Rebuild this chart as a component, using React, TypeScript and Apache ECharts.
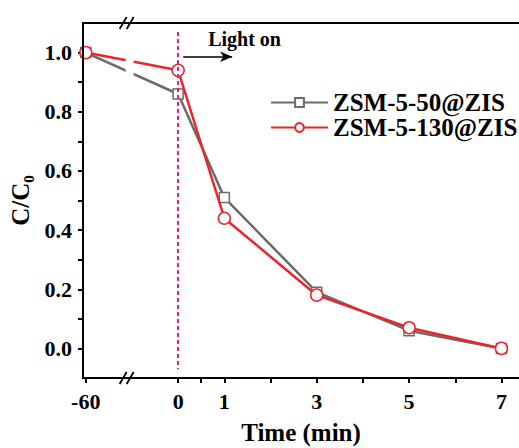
import React, { useEffect, useRef } from "react";
import * as echarts from "echarts";

// Data
const timeLabels = ["-60", "0", "1", "3", "5", "7"];
const times = [-60, 0, 1, 3, 5, 7];
const zsm50 = [1.0, 0.86, 0.51, 0.19, 0.06, 0.0];
const zsm130 = [1.0, 0.94, 0.44, 0.18, 0.07, 0.0];
const seriesNames = ["ZSM-5-50@ZIS", "ZSM-5-130@ZIS"];
const yTicks = [0, 0.2, 0.4, 0.6, 0.8, 1.0];
const yMinorTicks = [0.1, 0.3, 0.5, 0.7, 0.9];
const xMinorTicks = [0.5, 2, 4, 6];

// broken axis: the dark period (-60 min) is drawn two units left of 0
const DARK_POS = -2;
const BREAK_POS = -1.05;
const toPos = (t: number) => (t < 0 ? DARK_POS : t);
const xTickPos = times.map(toPos);
const labelFor = (v: number) => {
  const i = xTickPos.findIndex((p) => Math.abs(p - v) < 1e-6);
  return i >= 0 ? timeLabels[i] : "";
};

const FONT = "Liberation Serif";

export default function App() {
  const ref = useRef<HTMLDivElement>(null);
  useEffect(() => {
    if (!ref.current) return;
    const chart = echarts.init(ref.current, null, { renderer: "svg" });
    const xMin = -2.06;
    const xMax = 7.38;
    const yMin = -0.1;
    const yMax = 1.1;
    const axisLineStyle = { color: "#000", width: 2 };
    const option: any = {
      animation: false,
      backgroundColor: "#fff",
      grid: { left: 83, top: 23, right: 0, bottom: 70, containLabel: false, outerBoundsMode: "none" },
      legend: {
        orient: "vertical",
        left: 265,
        top: 85,
        itemWidth: 57,
        itemHeight: 11,
        itemGap: 0,
        textStyle: { fontFamily: FONT, fontWeight: "bold", fontSize: 25, color: "#000" },
        data: seriesNames,
      },
      xAxis: [
        {
          type: "value",
          min: xMin,
          max: xMax,
          position: "bottom",
          axisLine: { show: true, onZero: false, lineStyle: axisLineStyle },
          axisTick: {
            show: true,
            length: 5,
            lineStyle: { color: "#000", width: 2 },
            customValues: [...xTickPos, ...xMinorTicks],
          },
          axisLabel: {
            customValues: xTickPos,
            formatter: (v: number) => labelFor(v),
            fontFamily: FONT,
            fontWeight: "bold",
            fontSize: 22,
            color: "#000",
            margin: 12,
          },
          splitLine: { show: false },
          name: "Time (min)",
          nameLocation: "middle",
          nameGap: 42,
          nameTextStyle: { fontFamily: FONT, fontWeight: "bold", fontSize: 25, color: "#000" },
        },
        {
          type: "value",
          min: xMin,
          max: xMax,
          position: "top",
          axisLine: { show: true, onZero: false, lineStyle: axisLineStyle },
          axisTick: { show: false },
          axisLabel: { show: false },
          splitLine: { show: false },
        },
      ],
      yAxis: [
        {
          type: "value",
          min: yMin,
          max: yMax,
          position: "left",
          axisLine: { show: true, onZero: false, lineStyle: axisLineStyle },
          axisTick: {
            show: true,
            length: 5,
            lineStyle: { color: "#000", width: 2 },
            customValues: [...yTicks, ...yMinorTicks],
          },
          axisLabel: {
            customValues: yTicks,
            formatter: (v: number) => v.toFixed(1),
            fontFamily: FONT,
            fontWeight: "bold",
            fontSize: 22,
            color: "#000",
            margin: 11,
          },
          splitLine: { show: false },
          name: "C/C₀",
          nameLocation: "middle",
          nameGap: 50,
          nameTextStyle: { fontFamily: FONT, fontWeight: "bold", fontSize: 25, color: "#000" },
        },
      ],
      series: [
        {
          name: seriesNames[0],
          type: "line",
          xAxisIndex: 0,
          yAxisIndex: 0,
          data: times.map((t, i) => [toPos(t), zsm50[i]]),
          symbol: "rect",
          symbolSize: 10,
          itemStyle: { color: "#fff", borderColor: "#6b6b6b", borderWidth: 1.5 },
          lineStyle: { color: "#6b6b6b", width: 2.5 },
          color: "#6b6b6b",
          z: 2,
          markLine: {
            silent: true,
            symbol: ["none", "none"],
            label: { show: false },
            lineStyle: { color: "#e0208a", width: 2, type: [4, 3] },
            data: [
              [
                { coord: [0, 1.07] },
                { coord: [0, -0.07] },
              ],
            ],
          },
        },
        {
          name: seriesNames[1],
          type: "line",
          xAxisIndex: 0,
          yAxisIndex: 0,
          data: times.map((t, i) => [toPos(t), zsm130[i]]),
          symbol: "circle",
          symbolSize: 12,
          itemStyle: { color: "#fff", borderColor: "#e8262b", borderWidth: 1.5 },
          lineStyle: { color: "#e8262b", width: 2.5 },
          color: "#e8262b",
          z: 3,
          markLine: {
            silent: true,
            symbol: ["none", "arrow"],
            symbolSize: [8, 12],
            label: { show: false },
            lineStyle: { color: "#000", width: 1.5, type: "solid" },
            data: [
              [
                { coord: [0.11, 0.986] },
                { coord: [1.17, 0.986] },
              ],
            ],
          },
        },
      ],
    };
    chart.setOption(option);

    const px = (x: number, y: number) =>
      chart.convertToPixel({ xAxisIndex: 0, yAxisIndex: 0 }, [x, y]) as number[];
    const [bx, by0] = px(BREAK_POS, yMin);
    const [, byTop] = px(BREAK_POS, yMax);
    const [axX, axBot] = px(xMin, yMin);
    const [, axTop] = px(xMin, yMax);
    const [, gapTop] = px(BREAK_POS, 1.03);
    const [, gapBot] = px(BREAK_POS, 0.84);
    const [lx, ly] = px(0.65, 1.045);
    const slash = (cx: number, cy: number) => [0, 1].map((k) => ({
      type: "line",
      z: 101,
      shape: { x1: cx - 7 + k * 7, y1: cy + 6, x2: cx + k * 7, y2: cy - 6 },
      style: { stroke: "#000", lineWidth: 1.8 },
    }));
    chart.setOption({
      graphic: [
        {
          type: "line",
          z: 102,
          shape: { x1: axX, y1: axBot + 1, x2: axX, y2: axTop - 1 },
          style: { stroke: "#000", lineWidth: 2 },
        },
        {
          type: "rect",
          z: 100,
          shape: { x: bx - 4, y: gapTop, width: 8, height: gapBot - gapTop },
          style: { fill: "#fff" },
        },
        ...slash(bx - 3, by0),
        ...slash(bx - 3, byTop),
        {
          type: "text",
          z: 101,
          x: lx,
          y: ly,
          style: {
            text: "Light on",
            fill: "#000",
            font: `bold 20px "${FONT}"`,
            textVerticalAlign: "middle",
          },
        },
      ],
    });
    return () => chart.dispose();
  }, []);
  return (
    <div
      ref={ref}
      style={{ position: "absolute", left: 0, top: 0, width: 519, height: 448, background: "#fff" }}
    />
  );
}
